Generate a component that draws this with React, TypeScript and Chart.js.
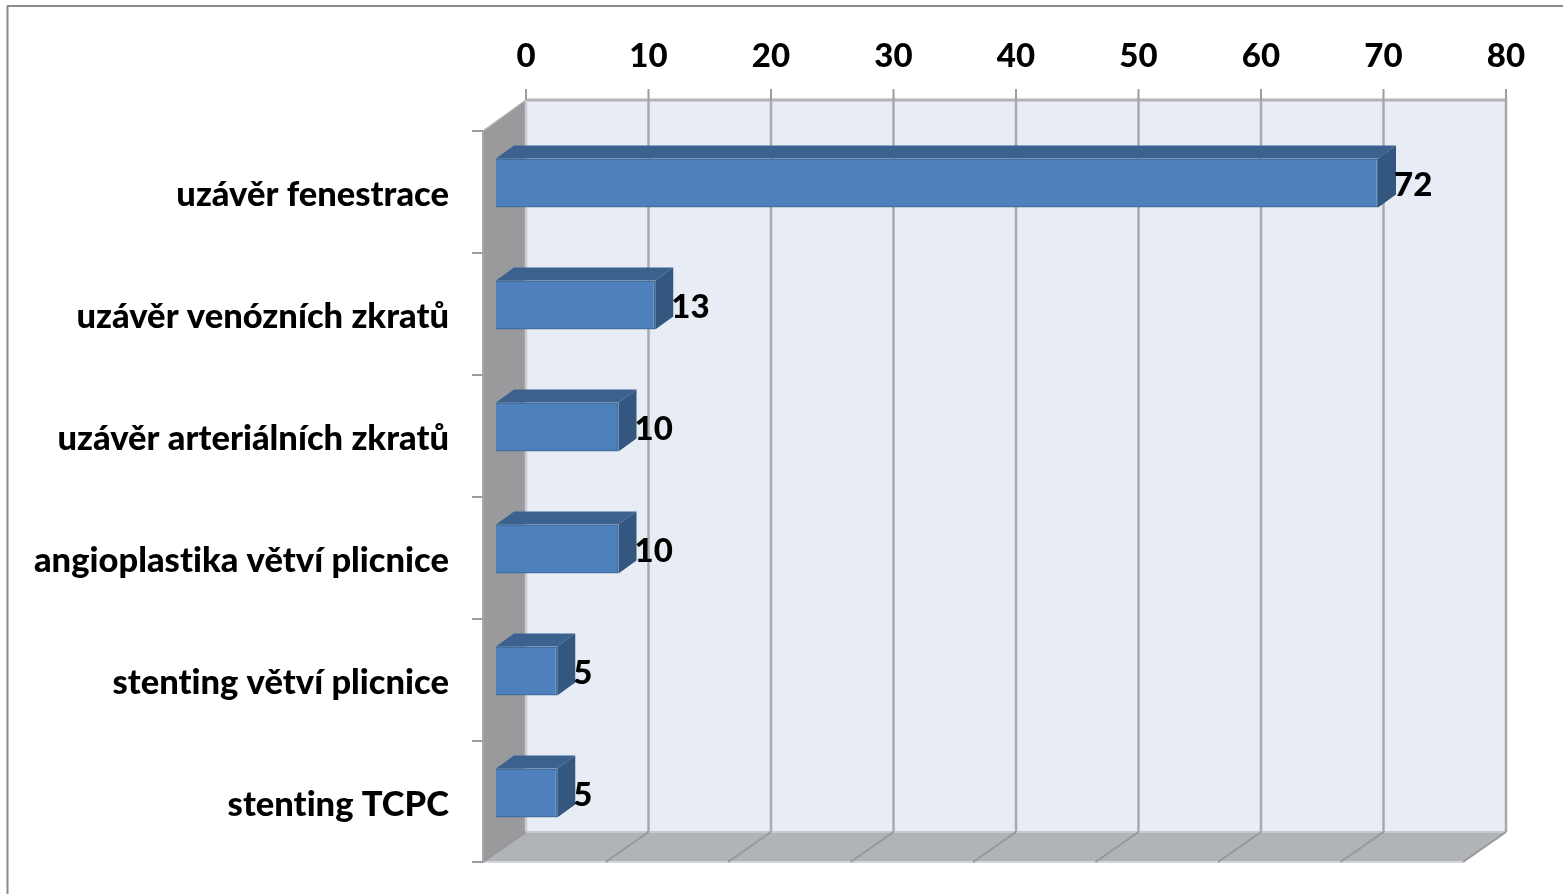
import React, { useEffect, useRef } from "react";
import { Chart, registerables } from "chart.js";

Chart.register(...registerables);

const categories = [
  "uzávěr fenestrace",
  "uzávěr venózních zkratů",
  "uzávěr arteriálních zkratů",
  "angioplastika větví plicnice",
  "stenting větví plicnice",
  "stenting TCPC",
];
const cases = [72, 13, 10, 10, 5, 5];
const axisMax = 80;
const axisStep = 10;

const FONT = "Lato, 'Noto Sans', sans-serif";
const BACK_DX = 30;
const BACK_DY = -22;
const OUTER_DX = -13;
const OUTER_DY = 8;
const BAR_DX = 18;
const BAR_DY = -13;

const poly = (ctx: CanvasRenderingContext2D, pts: number[][], fill: string) => {
  ctx.beginPath();
  pts.forEach(([x, y], i) => (i ? ctx.lineTo(x, y) : ctx.moveTo(x, y)));
  ctx.closePath();
  ctx.fillStyle = fill;
  ctx.fill();
};

const line = (ctx: CanvasRenderingContext2D, x0: number, y0: number, x1: number, y1: number, color: string, w: number) => {
  ctx.beginPath();
  ctx.moveTo(x0, y0);
  ctx.lineTo(x1, y1);
  ctx.strokeStyle = color;
  ctx.lineWidth = w;
  ctx.stroke();
};

// Draws the box behind the bars: back wall, side wall, floor, grid and frame.
const boxPlugin = {
  id: "box3d",
  beforeDraw(chart: any) {
    // A tiny spacing keeps the "ti" pairs as separate letters
    chart.ctx.letterSpacing = "0.01px";
  },
  beforeDatasetsDraw(chart: any) {
    const { ctx, chartArea: a, scales } = chart;
    const sx = scales.x;
    const bl = a.left + BACK_DX, br = a.right + BACK_DX;
    const bt = a.top + BACK_DY, bb = a.bottom + BACK_DY;
    const ol = a.left + OUTER_DX, or = a.right + OUTER_DX;
    const ot = a.top + OUTER_DY + 1, ob = a.bottom + OUTER_DY;
    ctx.save();

    line(ctx, 7.5, 6, 7.5, chart.height, "#8a8a8a", 2);
    line(ctx, 7, 6, chart.width, 6, "#8a8a8a", 2);

    poly(ctx, [[bl, bt], [br, bt], [br, bb], [bl, bb]], "#e8ecf5");
    poly(ctx, [[ol, ot], [bl, bt], [bl, bb], [ol, ob]], "#9a9a9d");
    poly(ctx, [[bl, bb], [br, bb], [or, ob], [ol, ob]], "#b0b3b8");

    line(ctx, bl, bt, br, bt, "#b4b4b4", 3);
    line(ctx, bl, bb, br, bb, "#c6c8cc", 2);
    line(ctx, ol, ob, or, ob, "#d4d5d8", 2);
    line(ctx, ol, ot, ol, ob, "#a8a8a8", 2);
    line(ctx, ol, ot, bl, bt, "#b4b4b4", 1.5);

    for (let v = 0; v <= axisMax; v += axisStep) {
      const x = sx.getPixelForValue(v);
      const gx = x + BACK_DX;
      line(ctx, gx, bt - 11, gx, bt, "#9c9c9c", 2);
      line(ctx, gx, bt, gx, bb, v === 0 ? "#c8ccd4" : "#a9aaad", 2.5);
      line(ctx, gx, bb, x + OUTER_DX, ob, "#97989b", 2);
    }

    const band = (a.bottom - a.top) / categories.length;
    for (let i = 0; i <= categories.length; i++) {
      const y = i === categories.length ? ob : ot + band * i;
      line(ctx, ol - 11, y, ol, y, "#9c9c9c", 2);
    }

    // Top and end faces of each bar
    chart.getDatasetMeta(0).data.forEach((bar: any) => {
      const t = bar.y - bar.height / 2;
      const b = bar.y + bar.height / 2;
      poly(ctx, [[bar.base, t], [bar.base + BAR_DX, t + BAR_DY], [bar.x + BAR_DX, t + BAR_DY], [bar.x, t]], "#3b618f");
      poly(ctx, [[bar.x, t], [bar.x + BAR_DX, t + BAR_DY], [bar.x + BAR_DX, b + BAR_DY], [bar.x, b]], "#34577f");
    });
    ctx.restore();
  },
  // Value labels beside the bar ends
  afterDatasetsDraw(chart: any) {
    const { ctx } = chart;
    ctx.save();
    ctx.font = `900 33px ${FONT}`;
    ctx.fillStyle = "#000";
    ctx.textAlign = "left";
    ctx.textBaseline = "middle";
    chart.getDatasetMeta(0).data.forEach((bar: any, i: number) => {
      ctx.fillText(String(cases[i]), bar.x + 16, bar.y + 2);
    });
    ctx.restore();
  },
};

export default function App() {
  const ref = useRef<HTMLCanvasElement>(null);

  useEffect(() => {
    document.body.style.margin = "0";
    const chart = new Chart(ref.current!, {
      type: "bar",
      data: {
        labels: categories,
        datasets: [
          {
            data: cases,
            backgroundColor: "#4e80be",
            borderColor: "#41709f",
            borderWidth: 1.5,
            barPercentage: 49 / 122,
            categoryPercentage: 1,
          },
        ],
      },
      options: {
        indexAxis: "y",
        responsive: false,
        animation: false,
        layout: { padding: { left: 0, top: 0, right: 87, bottom: 40 } },
        plugins: { legend: { display: false }, tooltip: { enabled: false } },
        scales: {
          x: {
            position: "top",
            min: 0,
            max: axisMax,
            grid: { display: false },
            border: { display: false },
            afterFit: (s: any) => { s.height = 122; s.paddingLeft = 0; s.paddingRight = 0; },
            ticks: {
              stepSize: axisStep,
              padding: 38,
              labelOffset: BACK_DX,
              maxRotation: 0,
              color: "#000",
              font: { family: FONT, size: 33, weight: "900" },
            },
          },
          y: {
            grid: { display: false },
            border: { display: false },
            afterFit: (s: any) => { s.width = 496; s.paddingTop = 0; s.paddingBottom = 0; },
            ticks: {
              padding: 39,
              labelOffset: 12,
              color: "#000",
              font: { family: FONT, size: 34.5, weight: "900" },
            },
          },
        },
      },
      plugins: [boxPlugin],
    } as any);
    return () => chart.destroy();
  }, []);

  return <canvas ref={ref} width={1563} height={894} style={{ display: "block" }} />;
}
